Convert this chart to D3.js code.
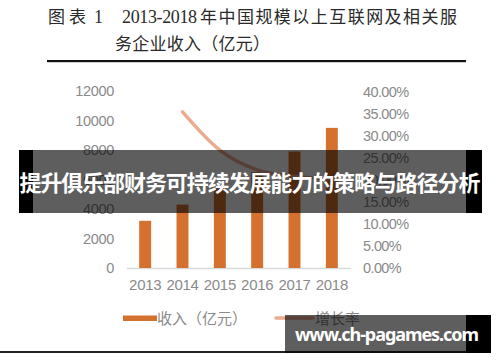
<!DOCTYPE html>
<html lang="zh">
<head>
  <meta charset="UTF-8">
  <title>2013-2018 互联网及相关服务企业收入</title>
  <script src="https://d3js.org/d3.v7.min.js"></script>
  <style>
    body { margin: 0; background: white; }
    svg { display: block; }
  </style>
</head>
<body>
  <div id="chart"></div>
  <script>
    // data
    const years = ["2013", "2014", "2015", "2016", "2017", "2018"];
    const revenue = [3200, 4300, 5400, 6500, 7900, 9500];
    const growth = [null, 0.355, 0.268, 0.223, 0.208, 0.203];
    const leftTicks = [0, 2000, 4000, 6000, 8000, 10000, 12000];
    const rightTicks = [0, 0.05, 0.10, 0.15, 0.20, 0.25, 0.30, 0.35, 0.40];

    const width = 500, height = 362;
    const barColor = "#D4712F";
    const lineColor = "#EBAB91";
    const labelColor = "#8a8a8a";
    const cjk = "'Noto Sans CJK SC', sans-serif";

    const svg = d3.select("#chart").append("svg")
      .attr("width", width)
      .attr("height", height);

    // title block
    const title = svg.append("g").attr("fill", "#2a2a2a");
    title.append("text").attr("x", 48).attr("y", 23)
      .attr("font-family", cjk).attr("font-size", 17)
      .attr("textLength", 38).text("图表");
    title.append("text").attr("x", 94).attr("y", 23)
      .attr("font-family", "'Liberation Serif', serif").attr("font-size", 18)
      .text("1");
    title.append("text").attr("x", 122).attr("y", 23)
      .attr("font-family", "'Liberation Serif', serif").attr("font-size", 18)
      .attr("textLength", 75).text("2013-2018");
    title.append("text").attr("x", 200).attr("y", 23)
      .attr("font-family", cjk).attr("font-size", 17)
      .attr("textLength", 257).text("年中国规模以上互联网及相关服");
    title.append("text").attr("x", 115).attr("y", 50)
      .attr("font-family", cjk).attr("font-size", 17)
      .attr("textLength", 155).text("务企业收入（亿元）");
    svg.append("rect").attr("x", 47).attr("y", 60).attr("width", 419).attr("height", 2.2)
      .attr("fill", "#111");

    // scales
    const x = d3.scaleBand().domain(years).range([126.5, 350.5]).paddingInner(0.68).paddingOuter(0.34);
    const xc = d => x(d) + x.bandwidth() / 2;
    const y = d3.scaleLinear().domain([0, 12000]).range([268, 91]);
    const y2 = d3.scaleLinear().domain([0, 0.40]).range([268, 92]);

    // left axis
    svg.append("g")
      .attr("transform", "translate(114,0)")
      .call(d3.axisLeft(y).tickValues(leftTicks).tickFormat(d3.format("d")).tickSize(0).tickPadding(0))
      .call(g => g.select(".domain").remove())
      .call(g => g.selectAll("text").attr("fill", labelColor)
        .attr("font-family", "'Liberation Sans', sans-serif").attr("font-size", 14.5)
        .attr("letter-spacing", -0.3));

    // right axis
    svg.append("g")
      .attr("transform", "translate(363,0)")
      .call(d3.axisRight(y2).tickValues(rightTicks).tickFormat(d3.format(".2%")).tickSize(0).tickPadding(0))
      .call(g => g.select(".domain").remove())
      .call(g => g.selectAll("text").attr("fill", labelColor)
        .attr("font-family", "'Liberation Sans', sans-serif").attr("font-size", 14.5)
        .attr("letter-spacing", -0.6));

    // bottom axis
    svg.append("g")
      .attr("transform", "translate(0,268)")
      .call(d3.axisBottom(x).tickSize(0).tickPadding(11))
      .call(g => g.select(".domain").attr("stroke", "#d9d9d9").attr("stroke-width", 1.5))
      .call(g => g.selectAll("text").attr("fill", labelColor)
        .attr("font-family", "'Liberation Sans', sans-serif").attr("font-size", 15)
        .attr("letter-spacing", -0.3));

    // bars
    svg.append("g").selectAll("rect")
      .data(years)
      .join("rect")
      .attr("x", d => x(d))
      .attr("width", x.bandwidth())
      .attr("y", (d, i) => y(revenue[i]))
      .attr("height", (d, i) => y(0) - y(revenue[i]))
      .attr("fill", barColor);

    // growth line
    const line = d3.line()
      .defined(d => d[1] !== null)
      .x(d => xc(d[0]))
      .y(d => y2(d[1]))
      .curve(d3.curveMonotoneX);
    svg.append("path")
      .datum(years.map((yr, i) => [yr, growth[i]]))
      .attr("d", line)
      .attr("fill", "none")
      .attr("stroke", lineColor)
      .attr("stroke-width", 3.5)
      .attr("stroke-linecap", "round");

    // legend
    const legend = svg.append("g")
      .attr("font-family", cjk).attr("font-size", 15).attr("fill", labelColor);
    legend.append("rect").attr("x", 123).attr("y", 315.5).attr("width", 34).attr("height", 5.5)
      .attr("fill", barColor);
    legend.append("text").attr("x", 157).attr("y", 324).text("收入（亿元）");
    legend.append("line").attr("x1", 276).attr("x2", 313).attr("y1", 318).attr("y2", 318)
      .attr("stroke", lineColor).attr("stroke-width", 3.5).attr("stroke-linecap", "round");
    legend.append("text").attr("x", 315).attr("y", 324).text("增长率");

    // bottom rule
    svg.append("rect").attr("x", 0).attr("y", 351).attr("width", 466).attr("height", 2)
      .attr("fill", "#222");

    // overlay banner in the middle
    svg.append("rect").attr("x", 19).attr("y", 150).attr("width", 14).attr("height", 63).attr("fill", "#000");
    svg.append("rect").attr("x", 466).attr("y", 150).attr("width", 16).attr("height", 63).attr("fill", "#000");
    svg.append("rect").attr("x", 33).attr("y", 150).attr("width", 433).attr("height", 63)
      .attr("fill", "rgba(0,0,0,0.63)");
    svg.append("text").attr("x", 250).attr("y", 191)
      .attr("text-anchor", "middle")
      .attr("font-family", cjk).attr("font-weight", 700).attr("font-size", 22)
      .attr("textLength", 461)
      .attr("fill", "#fff")
      .text("提升俱乐部财务可持续发展能力的策略与路径分析");

    // overlay banner at the bottom
    svg.append("rect").attr("x", 466).attr("y", 315).attr("width", 25).attr("height", 38).attr("fill", "#000");
    svg.append("rect").attr("x", 285).attr("y", 315).attr("width", 181).attr("height", 38)
      .attr("fill", "rgba(0,0,0,0.63)");
    svg.append("text").attr("x", 295).attr("y", 341)
      .attr("font-family", "'Noto Sans', sans-serif").attr("font-weight", 700).attr("font-size", 18)
      .attr("textLength", 184)
      .attr("fill", "#fff")
      .text("www.ch-pagames.com");
  </script>
</body>
</html>
